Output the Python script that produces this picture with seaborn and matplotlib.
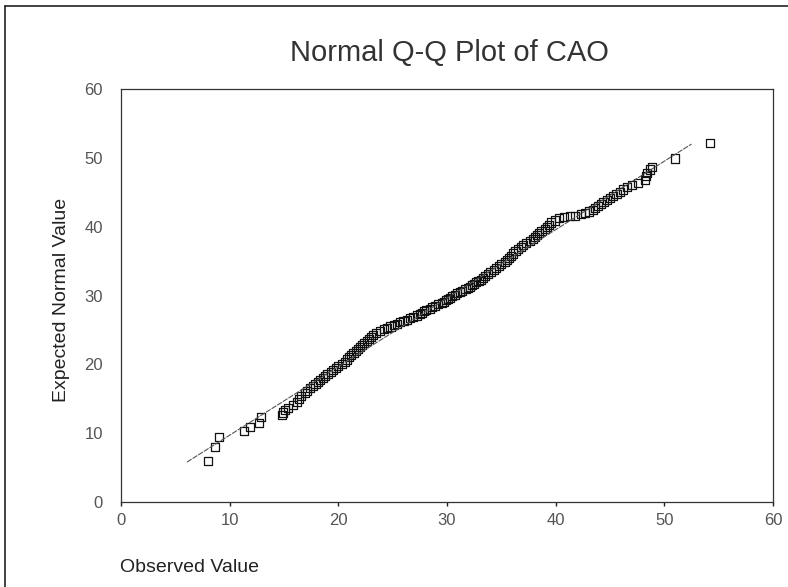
import matplotlib
matplotlib.use("Agg")
import matplotlib.pyplot as plt
import seaborn as sns
import pandas as pd
from matplotlib.lines import Line2D

# ---- data ----
observed = [8.0, 8.65, 9.0, 11.3, 11.9, 12.7, 12.9, 14.8, 14.9, 15.1, 15.4, 15.8, 16.2, 16.4, 16.6,
            16.9, 17.1, 17.4, 17.7, 17.9, 18.1, 18.3, 18.6, 18.8, 19.0, 19.3, 19.5, 19.8, 20.0, 20.3,
            20.6, 20.8, 21.0, 21.2, 21.4, 21.6, 21.8, 22.0, 22.2, 22.4, 22.6, 22.8, 23.0, 23.2, 23.5,
            23.8, 24.2, 24.5, 24.8, 25.1, 25.4, 25.7, 26.0, 26.3, 26.6, 26.9, 27.2, 27.5, 27.7, 27.9,
            28.1, 28.4, 28.6, 28.9, 29.2, 29.5, 29.7, 29.9, 30.1, 30.3, 30.5, 30.7, 30.9, 31.2, 31.4,
            31.7, 31.9, 32.1, 32.3, 32.5, 32.7, 32.9, 33.1, 33.3, 33.5, 33.8, 34.0, 34.3, 34.5, 34.8,
            35.0, 35.3, 35.5, 35.7, 35.9, 36.1, 36.3, 36.5, 36.8, 37.0, 37.3, 37.6, 37.9, 38.1, 38.3,
            38.5, 38.7, 39.0, 39.2, 39.4, 39.6, 39.9, 40.3, 40.8, 41.3, 41.8, 42.3, 42.7, 43.1, 43.4,
            43.6, 43.9, 44.2, 44.4, 44.7, 45.0, 45.3, 45.6, 45.9, 46.2, 46.6, 47.0, 47.6, 48.2, 48.3,
            48.4, 48.7, 48.9, 51.0, 54.2]
expected = [5.9, 8.0, 9.4, 10.3, 10.9, 11.5, 12.3, 12.7, 13.0, 13.4, 13.7, 14.1, 14.5, 15.0, 15.4,
            15.8, 16.1, 16.5, 16.8, 17.1, 17.4, 17.7, 18.0, 18.3, 18.6, 18.9, 19.2, 19.5, 19.8, 20.1,
            20.4, 20.7, 21.0, 21.3, 21.6, 21.9, 22.2, 22.5, 22.8, 23.1, 23.4, 23.7, 24.0, 24.3, 24.6,
            24.9, 25.1, 25.3, 25.5, 25.7, 25.9, 26.1, 26.3, 26.5, 26.7, 26.9, 27.1, 27.3, 27.5, 27.7,
            27.9, 28.1, 28.3, 28.5, 28.7, 28.9, 29.1, 29.3, 29.5, 29.7, 29.9, 30.1, 30.3, 30.5, 30.7,
            30.9, 31.1, 31.3, 31.5, 31.7, 31.9, 32.1, 32.3, 32.5, 32.8, 33.1, 33.4, 33.7, 34.0, 34.3,
            34.6, 34.9, 35.2, 35.5, 35.8, 36.1, 36.4, 36.7, 37.0, 37.3, 37.6, 37.9, 38.2, 38.5, 38.8,
            39.1, 39.4, 39.7, 40.0, 40.3, 40.6, 40.9, 41.2, 41.4, 41.5, 41.6, 41.8, 42.0, 42.2, 42.4,
            42.7, 43.0, 43.3, 43.6, 43.9, 44.2, 44.5, 44.8, 45.1, 45.4, 45.7, 46.0, 46.4, 46.8, 47.3,
            47.8, 48.3, 48.7, 49.9, 52.1]
line_x = [6.07, 52.5]
line_y = [5.8, 52.0]
x_ticks = [0, 10, 20, 30, 40, 50, 60]
y_ticks = [0, 10, 20, 30, 40, 50, 60]

df = pd.DataFrame({"Observed": observed, "Expected": expected})
df_line = pd.DataFrame({"x": line_x, "y": line_y})

sns.set_theme(style="white")
plt.rcParams["font.family"] = ["Liberation Sans", "DejaVu Sans"]

fig = plt.figure(figsize=(7.88, 5.87), dpi=100)
ax = fig.add_axes([121/788, 1-502/587, (773-121)/788, (502-89)/587])

sns.lineplot(data=df_line, x="x", y="y", ax=ax, color="#555555", linewidth=0.8,
             linestyle=(0, (5, 1)))
sns.scatterplot(data=df, x="Observed", y="Expected", ax=ax, marker="s", s=34,
                facecolor="none", edgecolor="#111111", linewidth=0.9)

ax.set_xlim(0, 60)
ax.set_ylim(0, 60)
ax.set_xticks(x_ticks)
ax.set_yticks(y_ticks)
ax.set_xlabel("")
ax.set_ylabel("")
ax.tick_params(axis="x", length=3, width=1, color="#222222", pad=5, labelsize=12,
               labelcolor="#555555", direction="out", bottom=True)
ax.tick_params(axis="y", length=0, pad=13, labelsize=12, labelcolor="#555555")
for sp in ax.spines.values():
    sp.set_color("#333333")
    sp.set_linewidth(0.9)
    sp.set_linestyle((0, (6, 1)))

fig.text(449/788, 1-53/587, "Normal Q-Q Plot of CAO", ha="center", va="center",
         fontsize=21, color="#333333")
fig.text(120/788, 1-568/587, "Observed Value", ha="left", va="center",
         fontsize=14, color="#222222")
fig.text(62/788, 1-300/587, "Expected Normal Value", ha="center", va="center",
         rotation=90, fontsize=14, color="#222222")

# scanned page border (top and left)
fig.add_artist(Line2D([5/788, 5/788], [0, 1-6/587], transform=fig.transFigure,
                      color="#222222", linewidth=1.2))
fig.add_artist(Line2D([5/788, 1], [1-6/587, 1-6/587], transform=fig.transFigure,
                      color="#222222", linewidth=1.2))

fig.savefig("out.png", dpi=100, facecolor="white")
